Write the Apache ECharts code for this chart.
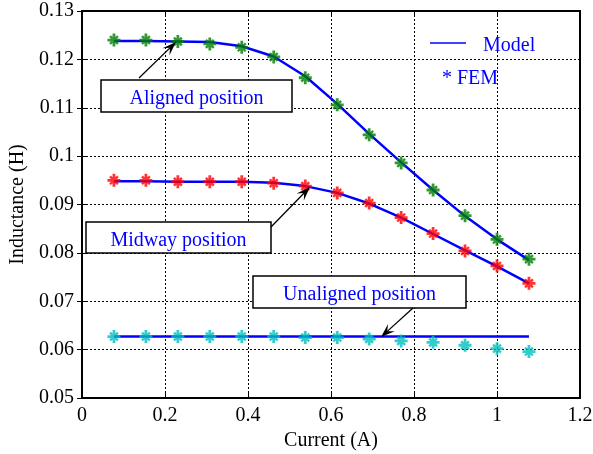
<!DOCTYPE html>
<html>
<head>
<meta charset="utf-8">
<script src="https://cdn.jsdelivr.net/npm/echarts@6/dist/echarts.min.js"></script>
<style>html,body{margin:0;padding:0;background:#fff}#c{width:593px;height:454px}</style>
</head>
<body>
<div id="c"></div>
<script>
var current = [0.077,0.154,0.231,0.308,0.385,0.462,0.538,0.615,0.692,0.769,0.846,0.923,1.0,1.077];
var alignedFEM = [0.1240,0.1240,0.1237,0.1232,0.1225,0.1205,0.1162,0.1106,0.1044,0.0986,0.0930,0.0877,0.0828,0.0787];
var alignedModel = [0.1238,0.1238,0.1237,0.1236,0.1227,0.1206,0.1165,0.1108,0.1046,0.0987,0.0930,0.0876,0.0828,0.0785];
var midwayFEM = [0.0950,0.0950,0.0947,0.0947,0.0947,0.0944,0.0938,0.0924,0.0903,0.0873,0.0840,0.0804,0.0773,0.0737];
var midwayModel = [0.0948,0.0948,0.0947,0.0947,0.0947,0.0945,0.0938,0.0924,0.0902,0.0873,0.0839,0.0805,0.0772,0.0737];
var unalignedFEM = [0.0627,0.0627,0.0627,0.0627,0.0627,0.0627,0.0625,0.0625,0.0622,0.0618,0.0615,0.0609,0.0602,0.0596];
var unalignedModel = [0.0627,0.0627,0.0627,0.0627,0.0627,0.0627,0.0627,0.0627,0.0627,0.0627,0.0627,0.0627,0.0627,0.0627];
var xTicks = [0,0.2,0.4,0.6,0.8,1,1.2];
var yTicks = [0.05,0.06,0.07,0.08,0.09,0.1,0.11,0.12,0.13];

function pairs(xs, ys){ return xs.map(function(x,i){return [x, ys[i]];}); }
var star = 'path://M-1.4,-6.5 L1.4,-6.5 L1.4,6.5 L-1.4,6.5 Z M-6.5,-1.4 L6.5,-1.4 L6.5,1.4 L-6.5,1.4 Z M-3.1,-4.8 L4.8,3.1 L3.1,4.8 L-4.8,-3.1 Z M3.1,-4.8 L4.8,-3.1 L-3.1,4.8 L-4.8,3.1 Z';
var font = 'Liberation Serif';
var chart = echarts.init(document.getElementById('c'));
function modelSeries(d){
  return {type:'line', data:pairs(current,d), showSymbol:false, lineStyle:{color:'#0000ff', width:2.5}, z:2, silent:true};
}
function femSeries(d,col){
  return {type:'scatter', data:pairs(current,d), symbol:star, symbolSize:13, itemStyle:{color:col}, z:3, silent:true};
}
var axisCommon = {
  axisLine:{show:true, lineStyle:{color:'#000', width:2}},
  axisTick:{show:true, inside:true, length:5, lineStyle:{color:'#000'}},
  splitLine:{show:true, lineStyle:{color:'#000', type:[2,2], width:1}}
};
chart.setOption({
  animation:false,
  grid:{left:82, right:13, top:11, bottom:56, show:true, borderColor:'#000', borderWidth:2, containLabel:false, outerBoundsMode:'none'},
  xAxis:[Object.assign({type:'value', min:0, max:1.2, interval:0.2,
    name:'Current (A)', nameLocation:'middle', nameGap:33,
    nameTextStyle:{fontFamily:font, fontSize:20, color:'#000'},
    axisLabel:{fontFamily:font, fontSize:20, color:'#000', margin:8, formatter:function(v){return String(+v.toFixed(1));}}
  }, axisCommon),
  {type:'value', position:'top', min:0, max:1.2, interval:0.2, axisLine:{show:true,lineStyle:{color:'#000',width:2}},
   axisTick:{show:true, inside:true, length:5, lineStyle:{color:'#000'}}, axisLabel:{show:false}, splitLine:{show:false}}],
  yAxis:[Object.assign({type:'value', min:0.05, max:0.13, interval:0.01,
    name:'Inductance (H)', nameLocation:'middle', nameGap:50,
    nameTextStyle:{fontFamily:font, fontSize:20, color:'#000'},
    axisLabel:{fontFamily:font, fontSize:20, color:'#000', margin:8, formatter:function(v){return String(+v.toFixed(2));}}
  }, axisCommon),
  {type:'value', position:'right', min:0.05, max:0.13, interval:0.01, axisLine:{show:true,lineStyle:{color:'#000',width:2}},
   axisTick:{show:true, inside:true, length:5, lineStyle:{color:'#000'}}, axisLabel:{show:false}, splitLine:{show:false}}],
  series:[
    modelSeries(alignedModel), modelSeries(midwayModel), modelSeries(unalignedModel),
    femSeries(alignedFEM,'#008000'), femSeries(midwayFEM,'#ff0000'), femSeries(unalignedFEM,'#00bfbf')
  ]
});

function arrow(x1,y1,x2,y2){
  var a = Math.atan2(y2-y1, x2-x1), L=14, W=5;
  var bx = x2 - L*Math.cos(a), by = y2 - L*Math.sin(a);
  var nx = -Math.sin(a), ny = Math.cos(a);
  var mx = x2 - 0.6*L*Math.cos(a), my = y2 - 0.6*L*Math.sin(a);
  return [
    {type:'line', shape:{x1:x1,y1:y1,x2:mx,y2:my}, style:{stroke:'#000', lineWidth:1.3}, z:10},
    {type:'polygon', shape:{points:[[x2,y2],[bx+nx*W,by+ny*W],[mx,my],[bx-nx*W,by-ny*W]]}, style:{fill:'#000'}, z:10}
  ];
}
function box(x,y,w,h,text){
  return [
    {type:'rect', shape:{x:x,y:y,width:w,height:h}, style:{fill:'#fff', stroke:'#000', lineWidth:1.5}, z:9},
    {type:'text', x:x+w/2, y:y+h/2+3, style:{text:text, fill:'#0000ff', font:'20px "Liberation Serif"', align:'center', verticalAlign:'middle'}, z:11}
  ];
}
var g = [];
g = g.concat(box(101,80,191,32,'Aligned position'));
g = g.concat(arrow(139,78,176,42));
g = g.concat(box(86,222,185,31,'Midway position'));
g = g.concat(arrow(271,227,310,187));
g = g.concat(box(253,276,213,32,'Unaligned position'));
g = g.concat(arrow(413,308,381,337));
g.push({type:'line', shape:{x1:430,y1:43,x2:466,y2:43}, style:{stroke:'#0000ff', lineWidth:1.5}, z:11});
g.push({type:'text', x:483, y:46, style:{text:'Model', fill:'#0000ff', font:'20px "Liberation Serif"', verticalAlign:'middle'}, z:11});
g.push({type:'text', x:442, y:79, style:{text:'* FEM', fill:'#0000ff', font:'20px "Liberation Serif"', verticalAlign:'middle'}, z:11});
chart.setOption({graphic:g});
</script>
</body>
</html>
